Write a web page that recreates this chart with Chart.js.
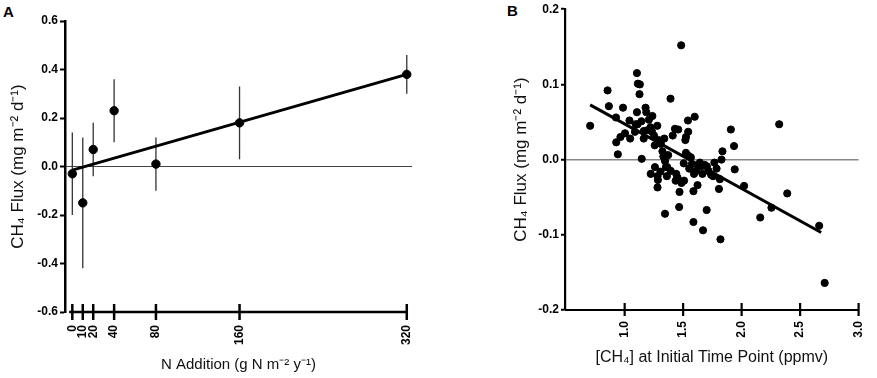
<!DOCTYPE html>
<html>
<head>
<meta charset="utf-8">
<script src="https://cdn.jsdelivr.net/npm/chart.js@4"></script>
<style>
  body { margin: 0; background: #fff; width: 877px; height: 378px; overflow: hidden; position: relative; font-family: "Liberation Sans", Arial, sans-serif; }
  canvas { position: absolute; top: 0; }
  #chartA { left: 0; }
  #chartB { left: 440px; }
  .panel { position: absolute; font-weight: bold; font-size: 15px; color: #000; }
</style>
</head>
<body>
<div class="panel" style="left:3px;top:3px">A</div>
<div class="panel" style="left:507px;top:2px">B</div>
<canvas id="chartA" width="440" height="378"></canvas>
<canvas id="chartB" width="437" height="378"></canvas>
<script>
// panel A: N addition vs CH4 flux (mean with error bars)
const nAddition = [0, 10, 20, 40, 80, 160, 320];
const fluxMean = [-0.03, -0.15, 0.07, 0.23, 0.01, 0.18, 0.38];
const fluxHigh = [0.14, 0.12, 0.18, 0.36, 0.12, 0.33, 0.46];
const fluxLow = [-0.20, -0.42, -0.04, 0.10, -0.10, 0.03, 0.30];
const fitAX = [0, 320];
const fitAY = [-0.015, 0.38];

// panel B: initial CH4 vs CH4 flux
const ch4Init = [0.705, 0.854, 0.865, 0.926, 0.928, 0.942, 0.986, 0.964, 1.003, 1.041, 1.047, 1.105, 1.113, 1.130, 1.127, 1.105, 1.110, 1.088, 1.146, 1.163, 1.179, 1.185, 1.163, 1.207, 1.237, 1.221, 1.251, 1.279, 1.257, 1.223, 1.259, 1.284, 1.281, 1.306, 1.339, 1.323, 1.331, 1.345, 1.364, 1.361, 1.345, 1.392, 1.411, 1.430, 1.458, 1.436, 1.452, 1.469, 1.466, 1.483, 1.486, 1.508, 1.505, 1.519, 1.524, 1.541, 1.543, 1.524, 1.546, 1.566, 1.599, 1.593, 1.588, 1.588, 1.610, 1.623, 1.643, 1.654, 1.665, 1.670, 1.684, 1.701, 1.703, 1.767, 1.756, 1.814, 1.806, 1.819, 1.836, 1.828, 1.908, 1.935, 1.941, 2.021, 2.159, 2.255, 2.321, 2.390, 2.663, 2.710, 1.143, 1.193, 1.234, 1.290, 1.309, 1.353, 1.372, 1.394, 1.441, 1.552, 1.574, 1.634, 1.717, 1.739, 1.786, 1.281, 1.094];
const ch4Flux = [0.045, 0.092, 0.071, 0.056, 0.023, 0.007, 0.069, 0.030, 0.035, 0.052, 0.028, 0.115, 0.101, 0.100, 0.087, 0.063, 0.047, 0.037, 0.001, 0.038, 0.069, 0.063, 0.028, 0.053, 0.058, 0.043, 0.032, 0.045, 0.019, -0.019, -0.010, -0.027, -0.037, -0.016, 0.028, 0.011, 0.004, -0.002, -0.010, -0.022, -0.072, 0.081, 0.032, 0.041, 0.040, -0.028, -0.024, -0.043, -0.063, 0.152, -0.031, -0.028, -0.005, 0.026, 0.030, 0.052, 0.037, 0.009, 0.005, 0.003, 0.057, -0.019, -0.042, -0.083, -0.015, -0.034, -0.004, -0.009, -0.019, -0.094, -0.007, -0.067, -0.009, -0.004, -0.022, -0.026, -0.039, -0.106, 0.011, 0.000, 0.040, 0.018, -0.013, -0.035, -0.077, -0.064, 0.047, -0.045, -0.088, -0.164, 0.051, 0.039, 0.037, 0.026, 0.021, -0.010, 0.006, -0.015, -0.019, -0.012, -0.006, -0.008, -0.015, -0.020, -0.012, -0.022, 0.047];
const fitBX = [0.705, 2.68];
const fitBY = [0.0727, -0.097];

const tickFont = { family: 'Liberation Sans', size: 12, weight: 'bold' };
const titleFont = { family: 'Liberation Sans', size: 15 };
const yTitleFont = { family: 'Liberation Sans', size: 17 };

// x axis drawn by hand so the ticks cross the line, like the original
const crossAxis = {
  id: 'crossAxis',
  afterDraw(chart, args, opts) {
    const ctx = chart.ctx;
    const sx = chart.scales.x;
    const y = chart.chartArea.bottom;
    ctx.save();
    ctx.strokeStyle = '#000';
    ctx.lineWidth = opts.width;
    ctx.beginPath();
    ctx.moveTo(sx.getPixelForValue(opts.from), y);
    ctx.lineTo(sx.getPixelForValue(opts.to), y);
    sx.ticks.forEach(t => {
      const x = sx.getPixelForValue(t.value);
      ctx.moveTo(x, y - opts.up);
      ctx.lineTo(x, y + opts.down);
    });
    ctx.stroke();
    ctx.restore();
  }
};

function zeroGrid(color, width) {
  return {
    drawOnChartArea: true,
    color: c => (c.tick && Math.abs(c.tick.value) < 1e-9 ? color : 'rgba(0,0,0,0)'),
    lineWidth: width,
    tickColor: '#000',
    tickWidth: 2,
    tickLength: 5
  };
}

const errorBars = [];
nAddition.forEach((x, i) => {
  errorBars.push({ x: x, y: fluxHigh[i] }, { x: x, y: fluxLow[i] }, { x: x, y: null });
});

new Chart(document.getElementById('chartA'), {
  type: 'scatter',
  data: {
    datasets: [
      {
        data: nAddition.map((x, i) => ({ x: x, y: fluxMean[i] })),
        backgroundColor: '#000',
        borderColor: '#000',
        pointRadius: 4.2
      },
      {
        data: fitAX.map((x, i) => ({ x: x, y: fitAY[i] })),
        showLine: true,
        borderColor: '#000',
        borderWidth: 2.8,
        pointRadius: 0
      },
      {
        data: errorBars,
        showLine: true,
        spanGaps: false,
        borderColor: '#333',
        borderWidth: 1.3,
        pointRadius: 0
      }
    ]
  },
  options: {
    responsive: false,
    animation: false,
    layout: { padding: { left: 0, top: 21, right: 28, bottom: 0 } },
    plugins: {
      legend: { display: false },
      tooltip: { enabled: false },
      crossAxis: { from: -3, to: 320, up: 8, down: 8, width: 2.5 }
    },
    scales: {
      x: {
        type: 'linear',
        min: -7,
        max: 325,
        afterBuildTicks: s => { s.ticks = nAddition.map(v => ({ value: v })); },
        afterFit: s => { s.height = 66; },
        grid: { display: false, drawTicks: true, tickLength: 9 },
        border: { display: false },
        ticks: { autoSkip: false, minRotation: 90, maxRotation: 90, padding: 4, color: '#000', font: tickFont },
        title: { display: true, text: 'N Addition (g N m⁻² y⁻¹)', color: '#111', font: titleFont, padding: { top: 0, bottom: 4 } }
      },
      y: {
        min: -0.6,
        max: 0.6,
        afterFit: s => { s.width = 65; },
        grid: zeroGrid('#444', 1),
        border: { display: true, color: '#000', width: 2.5 },
        ticks: { stepSize: 0.2, padding: 2, color: '#000', font: tickFont, callback: v => v.toFixed(1) },
        title: { display: true, text: 'CH₄ Flux (mg m⁻² d⁻¹)', color: '#111', font: yTitleFont, padding: { top: 8, bottom: 0 } }
      }
    }
  },
  plugins: [crossAxis]
});

new Chart(document.getElementById('chartB'), {
  type: 'scatter',
  data: {
    datasets: [
      {
        data: ch4Init.map((x, i) => ({ x: x, y: ch4Flux[i] })),
        backgroundColor: '#000',
        borderColor: '#000',
        pointRadius: 3.6
      },
      {
        data: fitBX.map((x, i) => ({ x: x, y: fitBY[i] })),
        showLine: true,
        borderColor: '#000',
        borderWidth: 3,
        pointRadius: 0
      }
    ]
  },
  options: {
    responsive: false,
    animation: false,
    layout: { padding: { left: 0, top: 7, right: 9, bottom: 0 } },
    plugins: {
      legend: { display: false },
      tooltip: { enabled: false },
      crossAxis: { from: 0.49, to: 3.0, up: 7, down: 6, width: 2.2 }
    },
    scales: {
      x: {
        type: 'linear',
        min: 0.49,
        max: 3.0,
        afterBuildTicks: s => { s.ticks = [1.0, 1.5, 2.0, 2.5, 3.0].map(v => ({ value: v })); },
        afterFit: s => { s.height = 68; },
        grid: { display: false, drawTicks: true, tickLength: 7 },
        border: { display: false },
        ticks: { autoSkip: false, minRotation: 90, maxRotation: 90, padding: 4, color: '#000', font: tickFont, callback: v => v.toFixed(1) },
        title: { display: true, text: '[CH₄] at Initial Time Point (ppmv)', color: '#111', font: { family: 'Liberation Sans', size: 16 }, padding: { top: 0, bottom: 11 } }
      },
      y: {
        min: -0.2,
        max: 0.2,
        afterFit: s => { s.width = 125; },
        grid: Object.assign(zeroGrid('#888', 1.5), { tickLength: 4 }),
        border: { display: true, color: '#000', width: 2.2 },
        ticks: { stepSize: 0.1, padding: 2, color: '#000', font: tickFont, callback: v => v.toFixed(1) },
        title: { display: true, text: 'CH₄ Flux (mg m⁻² d⁻¹)', color: '#111', font: yTitleFont, padding: { top: 71, bottom: 0 } }
      }
    }
  },
  plugins: [crossAxis]
});
</script>
</body>
</html>
